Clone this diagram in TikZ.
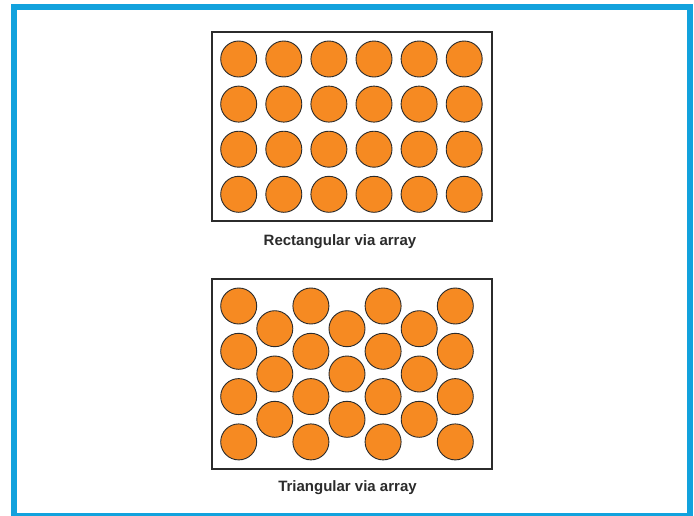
\documentclass[tikz,border=0pt]{standalone}
\usepackage{fontspec}
\setmainfont{Liberation Sans}
\definecolor{frameblue}{HTML}{12A2DD}
\definecolor{ballorange}{HTML}{F68A22}
\definecolor{linegray}{HTML}{2B2B2B}
\tikzset{
  ball/.style={circle,draw=linegray,line width=0.9pt,fill=ballorange,minimum size=36pt,inner sep=0pt},
  panel/.style={draw=linegray,line width=1.3pt,fill=white},
  caption/.style={font=\bfseries\fontsize{15}{18}\selectfont,text=linegray,inner sep=0pt,anchor=base}
}
\begin{document}
\begin{tikzpicture}[x=1pt,y=-1pt]
\useasboundingbox (0,0) rectangle (694,515);
\fill[white] (0,0) rectangle (694,515);
\begin{scope}
\clip (0,0) rectangle (694,515);
\draw[frameblue,line width=6pt] (14,7) rectangle (690,516);
\end{scope}
% top panel
\draw[panel] (212,32) rectangle (492,221);
\foreach \c in {0,...,5}{
  \foreach \r in {0,...,3}{
    \node[ball] (r\c\r) at ({238.7+45.1*\c},{59+45.1*\r}) {};
  }
}
\node[caption] (caprect) at (340,245.5) {Rectangular via array};
% bottom panel
\draw[panel] (212,279) rectangle (492,469);
\foreach \c in {0,2,4,6}{
  \foreach \r in {0,...,3}{
    \node[ball] (t\c\r) at ({238.7+36.1*\c},{306+45.3*\r}) {};
  }
}
\foreach \c in {1,3,5}{
  \foreach \r in {0,...,2}{
    \node[ball] (t\c\r) at ({238.7+36.1*\c},{328.7+45.3*\r}) {};
  }
}
\node[caption] (captri) at (347.5,491) {Triangular via array};
\end{tikzpicture}
\end{document}
